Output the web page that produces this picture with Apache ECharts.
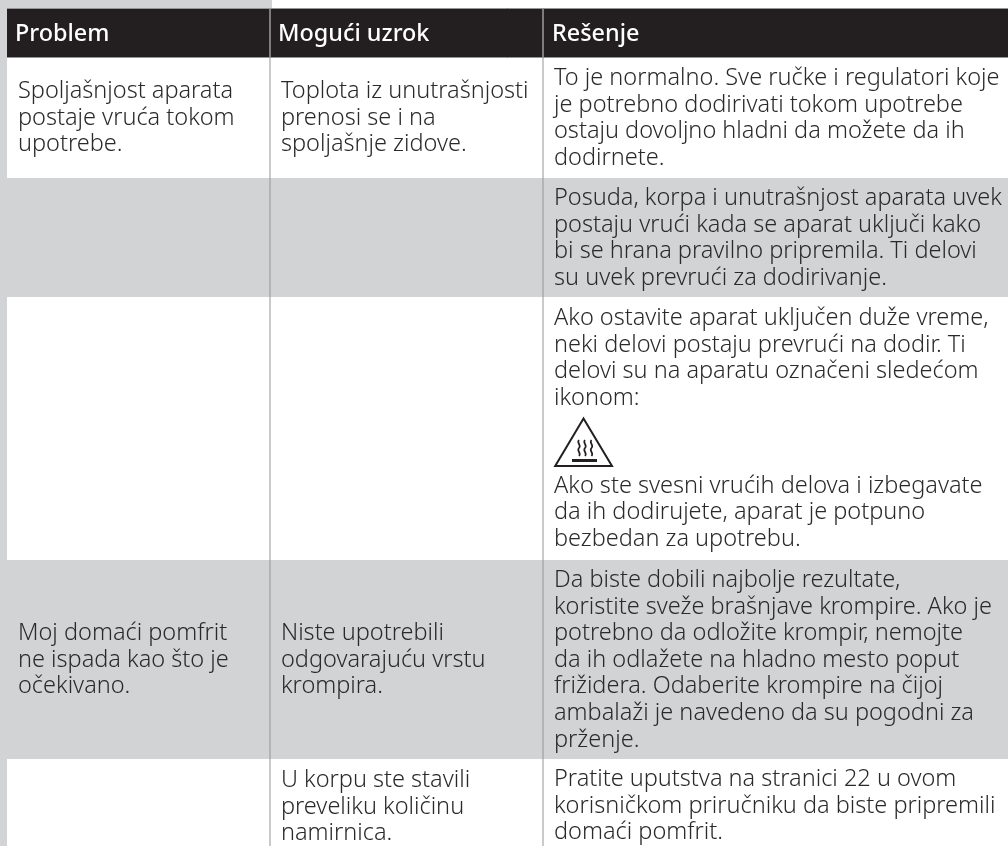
<!DOCTYPE html>
<html>
<head>
<meta charset="utf-8">
<title>Problem</title>
<script src="https://cdn.jsdelivr.net/npm/echarts@6/dist/echarts.min.js"></script>
<style>
html, body { margin: 0; padding: 0; background: #fff; }
#main { width: 1008px; height: 846px; }
</style>
</head>
<body>
<div id="main"></div>
<script>
// table content, one array per column, one inner list per row
// an empty string in a row stands for the room taken by the icon
const headers = ['Problem', 'Mogući uzrok', 'Rešenje'];
const problems = [
    ['Spoljašnjost aparata', 'postaje vruća tokom', 'upotrebe.'],
    [],
    [],
    ['Moj domaći pomfrit', 'ne ispada kao što je', 'očekivano.'],
    []
];
const causes = [
    ['Toplota iz unutrašnjosti', 'prenosi se i na', 'spoljašnje zidove.'],
    [],
    [],
    ['Niste upotrebili', 'odgovarajuću vrstu', 'krompira.'],
    ['U korpu ste stavili', 'preveliku količinu', 'namirnica.']
];
const solutions = [
    ['To je normalno. Sve ručke i regulatori koje', 'je potrebno dodirivati tokom upotrebe', 'ostaju dovoljno hladni da možete da ih', 'dodirnete.'],
    ['Posuda, korpa i unutrašnjost aparata uvek', 'postaju vrući kada se aparat uključi kako', 'bi se hrana pravilno pripremila. Ti delovi', 'su uvek prevrući za dodirivanje.'],
    ['Ako ostavite aparat uključen duže vreme,', 'neki delovi postaju prevrući na dodir. Ti', 'delovi su na aparatu označeni sledećom', 'ikonom:', '', 'Ako ste svesni vrućih delova i izbegavate', 'da ih dodirujete, aparat je potpuno', 'bezbedan za upotrebu.'],
    ['Da biste dobili najbolje rezultate,', 'koristite sveže brašnjave krompire. Ako je', 'potrebno da odložite krompir, nemojte', 'da ih odlažete na hladno mesto poput', 'frižidera. Odaberite krompire na čijoj', 'ambalaži je navedeno da su pogodni za', 'prženje.'],
    ['Pratite uputstva na stranici 22 u ovom', 'korisničkom priručniku da biste pripremili', 'domaći pomfrit.']
];

// layout, in page pixels
const colEdges = [7, 270, 543, 1008];
const rowEdges = [58, 178, 297, 560, 759, 846];
const textLeft = [18, 281, 554];
const headLeft = [15, 278, 552];
const firstBaseline = [
    [100, 100, 87],
    [0, 0, 207],
    [0, 0, 327],
    [642, 642, 589],
    [0, 789, 788]
];
const iconAnchor = [554, 417];
const iconRoom = 61.5;
const lineGap = 26.55;
const grey = '#d1d3d4';
const ink = '#2b292a';
const bodySize = 23.5;
const headSize = 23.4;

let columns = [problems, causes, solutions];

// one series item per rectangle / text line
let rects = [];
rects.push([0, 0, 7, 846, grey]);
rects.push([0, 0, 272, 8, grey]);
rects.push([7, 8, 1008, 58, '#231f20']);
rowEdges.slice(0, -1).forEach((top, i) => {
    rects.push([7, top, 1008, rowEdges[i + 1], i % 2 ? grey : '#fff']);
});

let lines = [];
headers.forEach((h, c) => lines.push([headLeft[c], 42.5, h, 1]));
columns.forEach((col, c) => {
    col.forEach((rowLines, r) => {
        let y = firstBaseline[r][c];
        rowLines.forEach(t => {
            if (t) {
                lines.push([textLeft[c], y, t, 0]);
                y += lineGap;
            } else {
                y += iconRoom;
            }
        });
    });
});

let rules = [];
[colEdges[1], colEdges[2]].forEach(x => {
    rules.push([x, 58, x, 846, '#939598']);
    rules.push([x, 8, x, 58, '#d9d9d9']);
});
rules.push([7, 8.5, 1008, 8.5, '#939598']);
rules.push([7, 57.5, 1008, 57.5, '#939598']);

const chart = echarts.init(document.getElementById('main'));
chart.setOption({
    animation: false,
    backgroundColor: '#fff',
    grid: { left: 0, right: 0, top: 0, bottom: 0 },
    xAxis: { type: 'value', min: 0, max: 1008, show: false },
    yAxis: { type: 'value', min: 0, max: 846, inverse: true, show: false },
    series: [
        {
            type: 'custom',
            coordinateSystem: 'cartesian2d',
            silent: true,
            z: 1,
            data: rects,
            renderItem: (params, api) => {
                const a = api.coord([api.value(0), api.value(1)]);
                const b = api.coord([api.value(2), api.value(3)]);
                return {
                    type: 'rect',
                    shape: { x: a[0], y: a[1], width: b[0] - a[0], height: b[1] - a[1] },
                    style: { fill: rects[params.dataIndex][4] }
                };
            }
        },
        {
            type: 'custom',
            coordinateSystem: 'cartesian2d',
            silent: true,
            z: 2,
            data: rules,
            renderItem: (params, api) => {
                const a = api.coord([api.value(0), api.value(1)]);
                const b = api.coord([api.value(2), api.value(3)]);
                return {
                    type: 'line',
                    shape: { x1: a[0], y1: a[1], x2: b[0], y2: b[1] },
                    style: { stroke: rules[params.dataIndex][4], lineWidth: 1 }
                };
            }
        },
        {
            type: 'custom',
            coordinateSystem: 'cartesian2d',
            silent: true,
            z: 3,
            data: lines,
            renderItem: (params, api) => {
                const item = lines[params.dataIndex];
                const p = api.coord([item[0], item[1]]);
                const head = item[3] === 1;
                const size = head ? headSize : bodySize;
                return {
                    type: 'text',
                    x: p[0],
                    // text is placed by its middle, lift it from the baseline
                    y: p[1] - size * 0.36,
                    style: {
                        text: item[2],
                        fill: head ? '#fff' : ink,
                        fontFamily: 'Noto Sans',
                        fontWeight: head ? 500 : 300,
                        fontSize: size,
                        align: 'left',
                        verticalAlign: 'middle'
                    }
                };
            }
        },
        {
            // hot surface warning icon
            type: 'custom',
            coordinateSystem: 'cartesian2d',
            silent: true,
            z: 3,
            data: [iconAnchor],
            renderItem: (params, api) => {
                const p = api.coord([api.value(0), api.value(1)]);
                const wave = dx => 'M' + dx + ' 23c-3 3 3 5 0 8s3 5 0 8';
                return {
                    type: 'group',
                    x: p[0],
                    y: p[1],
                    children: [
                        {
                            type: 'polygon',
                            shape: { points: [[29.5, 1.5], [1.2, 49], [58, 49]] },
                            style: { fill: 'none', stroke: '#231f20', lineWidth: 2 }
                        },
                        {
                            type: 'rect',
                            shape: { x: 18, y: 42, width: 25, height: 3 },
                            style: { fill: '#231f20' }
                        },
                        {
                            type: 'path',
                            shape: { pathData: wave(25) + wave(31) + wave(37.5) },
                            style: { fill: 'none', stroke: '#231f20', lineWidth: 1.7 }
                        }
                    ]
                };
            }
        }
    ]
});
</script>
</body>
</html>
